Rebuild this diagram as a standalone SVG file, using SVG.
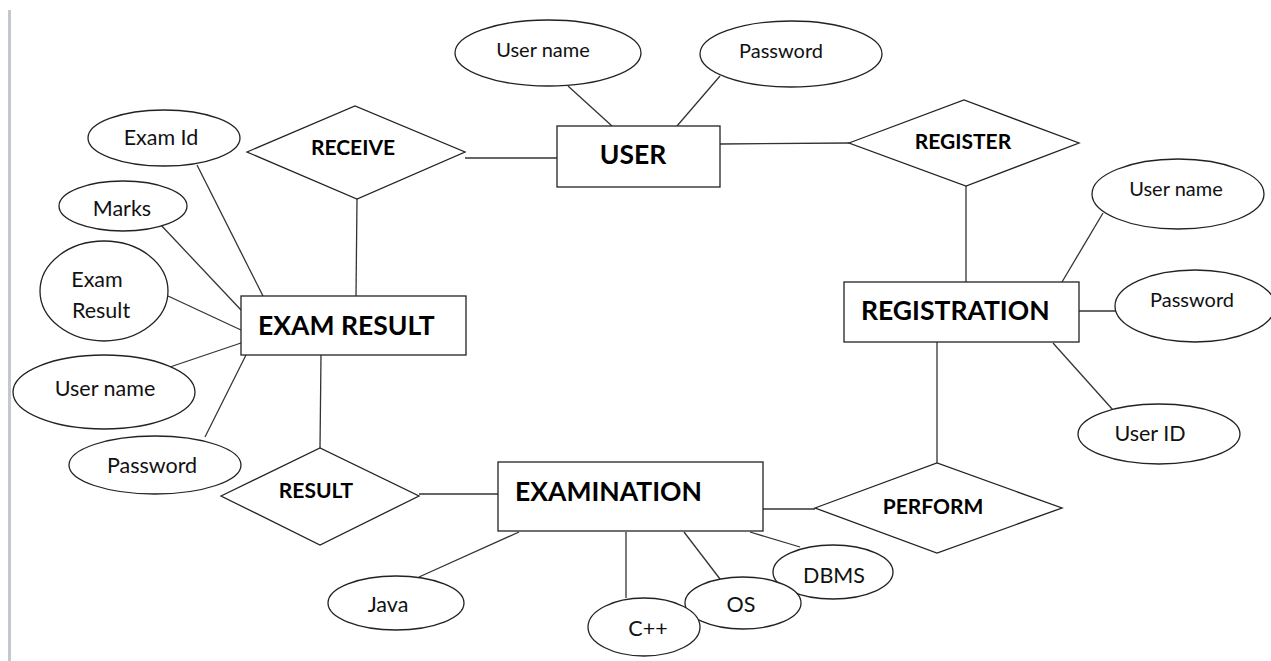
<svg xmlns="http://www.w3.org/2000/svg" width="1271" height="661" viewBox="0 0 1271 661">
<style>
.sh{fill:#fff;stroke:#222;stroke-width:1.3}
.ln{stroke:#333;stroke-width:1.3;fill:none}
.at{font-family:Lato,"Liberation Sans",sans-serif;font-size:21.5px;fill:#111;text-anchor:middle}
.sm{font-size:20px}
.rl{font-family:Lato,"Liberation Sans",sans-serif;font-size:21px;font-weight:bold;fill:#000;text-anchor:middle}
.en{font-family:Lato,"Liberation Sans",sans-serif;font-size:26.5px;font-weight:bold;fill:#000}
</style>
<rect width="1271" height="661" fill="#fff"/>
<line x1="9.5" y1="10" x2="9.5" y2="661" stroke="#c3c7cf" stroke-width="3"/>
<g id="connectors">
<line class="ln" x1="197" y1="165" x2="263" y2="296"/>
<line class="ln" x1="160" y1="224" x2="241" y2="310"/>
<line class="ln" x1="168" y1="296" x2="241" y2="330"/>
<line class="ln" x1="167" y1="368" x2="241" y2="343"/>
<line class="ln" x1="205" y1="437" x2="246" y2="355"/>
<line class="ln" x1="357" y1="199" x2="356" y2="296"/>
<line class="ln" x1="321" y1="355" x2="320" y2="448"/>
<line class="ln" x1="419" y1="494" x2="498" y2="494"/>
<line class="ln" x1="568" y1="86" x2="612" y2="126"/>
<line class="ln" x1="720" y1="76" x2="677" y2="126"/>
<line class="ln" x1="465" y1="158" x2="557" y2="158"/>
<line class="ln" x1="720" y1="144" x2="849" y2="143"/>
<line class="ln" x1="966" y1="186" x2="966" y2="282"/>
<line class="ln" x1="1062" y1="282" x2="1103" y2="213"/>
<line class="ln" x1="1079" y1="311" x2="1116" y2="311"/>
<line class="ln" x1="1053" y1="343" x2="1113" y2="410"/>
<line class="ln" x1="937" y1="342" x2="937" y2="463"/>
<line class="ln" x1="763" y1="509" x2="815" y2="509"/>
<line class="ln" x1="419" y1="577" x2="519" y2="532"/>
<line class="ln" x1="626" y1="532" x2="626" y2="598"/>
<line class="ln" x1="684" y1="532" x2="720" y2="579"/>
<line class="ln" x1="750" y1="532" x2="800" y2="547"/>
</g>
<g id="user"><rect class="sh" x="557" y="126" width="163" height="61"/><text class="en" x="633" y="164" text-anchor="middle">USER</text></g>
<g id="user-name-top"><ellipse class="sh" cx="548" cy="53" rx="93" ry="33"/><text class="at sm" x="543" y="57">User name</text></g>
<g id="password-top"><ellipse class="sh" cx="791" cy="54" rx="91" ry="33"/><text class="at sm" x="781" y="58">Password</text></g>
<g id="receive"><polygon class="sh" points="247,152 355,106 465,152 357,199"/><text class="rl" x="353" y="155">RECEIVE</text></g>
<g id="register"><polygon class="sh" points="849,143 964,100 1079,143 966,186"/><text class="rl" x="963" y="149">REGISTER</text></g>
<g id="exam-result"><rect class="sh" x="241" y="296" width="225" height="59"/><text class="en" x="258" y="335">EXAM RESULT</text></g>
<g id="exam-id"><ellipse class="sh" cx="164" cy="138" rx="76" ry="28"/><text class="at" x="161" y="145">Exam Id</text></g>
<g id="marks"><ellipse class="sh" cx="123" cy="206" rx="64" ry="25"/><text class="at" x="122" y="216">Marks</text></g>
<g id="exam-result-attr"><ellipse class="sh" cx="104" cy="291" rx="64" ry="50"/><text class="at" x="97" y="287">Exam</text><text class="at" x="101" y="318">Result</text></g>
<g id="user-name-left"><ellipse class="sh" cx="104" cy="392" rx="91" ry="37"/><text class="at" x="105" y="396">User name</text></g>
<g id="password-left"><ellipse class="sh" cx="155" cy="465" rx="86" ry="29"/><text class="at" x="152" y="473">Password</text></g>
<g id="result"><polygon class="sh" points="221,496 320,448 419,496 320,545"/><text class="rl" x="316" y="498">RESULT</text></g>
<g id="registration"><rect class="sh" x="844" y="282" width="235" height="60"/><text class="en" x="861" y="320">REGISTRATION</text></g>
<g id="user-name-right"><ellipse class="sh" cx="1178" cy="194" rx="86" ry="35"/><text class="at sm" x="1176" y="196">User name</text></g>
<g id="password-right"><ellipse class="sh" cx="1195" cy="306" rx="80" ry="36"/><text class="at sm" x="1192" y="307">Password</text></g>
<g id="user-id"><ellipse class="sh" cx="1159" cy="434" rx="81" ry="30"/><text class="at" x="1150" y="441">User ID</text></g>
<g id="perform"><polygon class="sh" points="815,508 937,463 1062,508 937,553"/><text class="rl" x="933" y="514">PERFORM</text></g>
<g id="examination"><rect class="sh" x="498" y="462" width="265" height="69"/><text class="en" x="515" y="501">EXAMINATION</text></g>
<g id="java"><ellipse class="sh" cx="396" cy="603" rx="68" ry="27"/><text class="at" x="388" y="612">Java</text></g>
<g id="dbms"><ellipse class="sh" cx="833" cy="572" rx="60" ry="27"/><text class="at" x="834" y="583">DBMS</text></g>
<g id="os"><ellipse class="sh" cx="743" cy="603" rx="58" ry="26"/><text class="at" x="741" y="612">OS</text></g>
<g id="cpp"><ellipse class="sh" cx="644" cy="627" rx="56" ry="29"/><text class="at" x="648" y="636">C++</text></g>
</svg>
